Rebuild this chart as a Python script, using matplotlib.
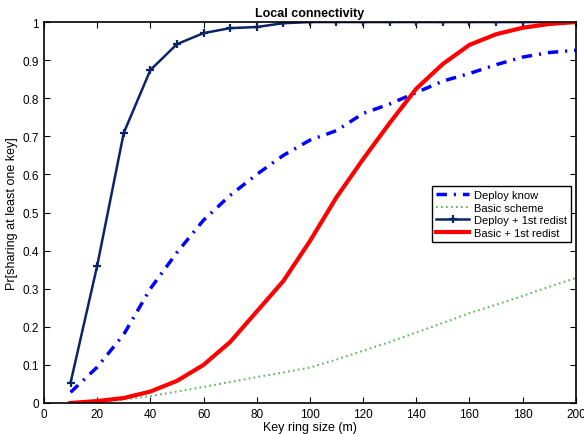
import matplotlib
matplotlib.use("Agg")
import matplotlib.pyplot as plt

plt.rcParams['font.family'] = ['Liberation Sans', 'DejaVu Sans']

x = list(range(10, 201, 10))

deploy_know = [0.028, 0.094, 0.18, 0.30, 0.395, 0.48, 0.545, 0.60, 0.65, 0.69,
               0.715, 0.76, 0.785, 0.815, 0.845, 0.865, 0.888, 0.908, 0.92, 0.926]
basic_scheme = [0.0, 0.003, 0.009, 0.018, 0.03, 0.042, 0.055, 0.068, 0.08, 0.093,
                0.114, 0.137, 0.16, 0.185, 0.21, 0.236, 0.258, 0.281, 0.305, 0.328]
deploy_redist = [0.053, 0.36, 0.709, 0.874, 0.942, 0.971, 0.984, 0.987, 0.997, 1.0,
                 1.0, 1.0, 1.0, 1.0, 1.0, 1.0, 1.0, 1.0, 1.0, 1.0]
basic_redist = [0.0, 0.005, 0.013, 0.03, 0.058, 0.1, 0.16, 0.24, 0.32, 0.425,
                0.54, 0.64, 0.735, 0.825, 0.89, 0.94, 0.968, 0.985, 0.995, 1.0]

fig = plt.figure(figsize=(5.84, 4.35), dpi=100)
ax = fig.add_axes([0.0753, 0.0713, 0.9107, 0.8757])

ax.plot(x, deploy_know, color="#0000ff", linestyle="-.", linewidth=2.5,
        dashes=(3, 2, 0.6, 2), label="Deploy know")
ax.plot(x, basic_scheme, color="#5cb85c", linestyle=":", linewidth=1.5,
        dashes=(0.8, 1.6), label="Basic scheme")
ax.plot(x, deploy_redist, color="#0b2466", linewidth=1.8, marker="+",
        markersize=6, markeredgewidth=1.6, label="Deploy + 1st redist")
ax.plot(x, basic_redist, color="#ff0000", linewidth=3, label="Basic + 1st redist")

ax.set_xlim(0, 200)
ax.set_ylim(0, 1)
ax.set_xticks(range(0, 201, 20))
ax.set_yticks([i / 10 for i in range(11)])
ax.set_yticklabels(["0", "0.1", "0.2", "0.3", "0.4", "0.5", "0.6", "0.7", "0.8", "0.9", "1"])
ax.tick_params(direction="in", top=True, right=True, labelsize=8.5, length=4)
for s in ax.spines.values():
    s.set_linewidth(1.2)

ax.set_xlabel("Key ring size (m)", fontsize=9, labelpad=1)
ax.set_ylabel("Pr[sharing at least one key]", fontsize=9, labelpad=3)
ax.set_title("Local connectivity", fontsize=9, fontweight="bold", pad=4)

leg = ax.legend(loc="upper right", bbox_to_anchor=(0.99, 0.57), fontsize=8,
                fancybox=False, edgecolor="black", framealpha=1,
                handlelength=3.0, borderpad=0.35, labelspacing=0.25,
                handletextpad=0.4, borderaxespad=0)
leg.get_frame().set_linewidth(1.0)

fig.savefig("out.png", dpi=100)
